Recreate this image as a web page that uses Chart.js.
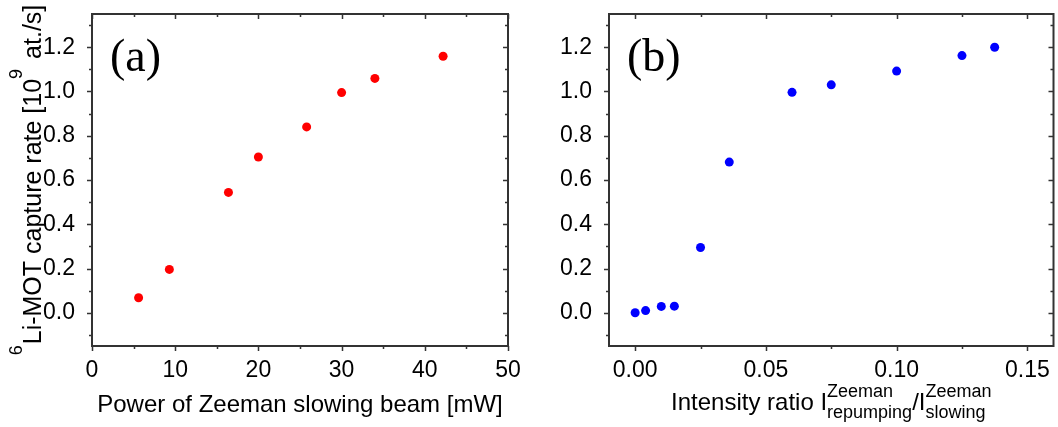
<!DOCTYPE html>
<html>
<head>
<meta charset="utf-8">
<script src="https://cdn.jsdelivr.net/npm/chart.js@4"></script>
<style>
  html, body { margin: 0; padding: 0; background: #fff; }
  #wrap { position: relative; width: 1058px; height: 427px; }
  canvas { position: absolute; top: 0; }
  #chartA { left: 0; }
  #chartB { left: 540px; }
</style>
</head>
<body>
<div id="wrap">
  <canvas id="chartA" width="540" height="427"></canvas>
  <canvas id="chartB" width="518" height="427"></canvas>
</div>
<script>
// panel (a): capture rate vs power of the Zeeman slowing beam
const powerMW = [5.6, 9.3, 16.4, 20.0, 25.8, 30.0, 34.0, 42.2];
const rateA   = [0.068, 0.196, 0.544, 0.704, 0.840, 0.995, 1.059, 1.159];

// panel (b): capture rate vs repumping / slowing intensity ratio
const ratio = [0.000, 0.004, 0.010, 0.015, 0.025, 0.036, 0.060, 0.075, 0.100, 0.125, 0.1375];
const rateB = [0.000, 0.010, 0.029, 0.030, 0.295, 0.681, 0.996, 1.030, 1.092, 1.162, 1.200];

// axis ticks
const yTicks  = [0, 0.2, 0.4, 0.6, 0.8, 1.0, 1.2];
const yMinor  = [-0.1, 0.1, 0.3, 0.5, 0.7, 0.9, 1.1, 1.3];
const xTicksA = [0, 10, 20, 30, 40, 50];
const xMinorA = [5, 15, 25, 35, 45];
const xTicksB = [0, 0.05, 0.10, 0.15];
const xMinorB = [0.025, 0.075, 0.125];

const SANS = '"Liberation Sans", Arial, sans-serif';
const INK = '#000';
const FRAME = '#333';

// draws a line of text with superscripts / stacked sup+sub, centred on x=0
function drawRich(ctx, parts, size, subSize) {
  const segs = parts.map(p => {
    if (p.t !== undefined && !p.sup) {
      ctx.font = size + 'px ' + SANS;
      return { ...p, w: ctx.measureText(p.t).width };
    }
    ctx.font = subSize + 'px ' + SANS;
    const w = Math.max(p.sup ? ctx.measureText(p.t || p.sup).width : 0,
                       p.sub ? ctx.measureText(p.sub).width : 0);
    return { ...p, w: w + (p.gap || 0) };
  });
  const total = segs.reduce((s, p) => s + p.w, 0);
  let x = -total / 2;
  ctx.textAlign = 'left';
  ctx.textBaseline = 'alphabetic';
  for (const p of segs) {
    if (p.t !== undefined && !p.sup) {
      ctx.font = size + 'px ' + SANS;
      ctx.fillText(p.t, x, 0);
    } else {
      ctx.font = subSize + 'px ' + SANS;
      if (p.sup) ctx.fillText(p.t || p.sup, x, -p.raise);
      if (p.sub) ctx.fillText(p.sub, x, p.drop);
    }
    x += p.w;
  }
}

const decoPlugin = {
  id: 'deco',
  afterDraw(chart, args, o) {
    const { ctx, chartArea: a, scales: { x, y } } = chart;
    ctx.save();

    // ticks: outward on bottom/left, inward mirrored on top/right
    ctx.strokeStyle = FRAME;
    ctx.lineWidth = 1.5;
    ctx.beginPath();
    const xt = (v, len) => {
      const p = Math.round(x.getPixelForValue(v)) + 0.5;
      ctx.moveTo(p, a.bottom); ctx.lineTo(p, a.bottom + len);
      ctx.moveTo(p, a.top); ctx.lineTo(p, a.top + len);
    };
    const yt = (v, len) => {
      const p = Math.round(y.getPixelForValue(v)) + 0.5;
      ctx.moveTo(a.left, p); ctx.lineTo(a.left - len, p);
      ctx.moveTo(a.right, p); ctx.lineTo(a.right - len, p);
    };
    o.xMajor.forEach(v => xt(v, 5));
    o.xMinor.forEach(v => xt(v, 3));
    yTicks.forEach(v => yt(v, 5));
    yMinor.forEach(v => yt(v, 3));
    ctx.stroke();

    ctx.lineWidth = 2;
    ctx.strokeRect(a.left, a.top, a.right - a.left, a.bottom - a.top);

    // panel label
    ctx.fillStyle = '#000';
    ctx.font = '46px "Liberation Serif", "DejaVu Serif", serif';
    ctx.textAlign = 'left';
    ctx.textBaseline = 'alphabetic';
    ctx.fillText(o.label, a.left + 18, a.top + 57);

    // x axis title
    ctx.fillStyle = INK;
    ctx.save();
    ctx.translate((a.left + a.right) / 2, o.xBase);
    drawRich(ctx, o.xTitle, 24, 18);
    ctx.restore();

    // y axis title
    if (o.yTitle) {
      ctx.save();
      ctx.translate(41, (a.top + a.bottom) / 2);
      ctx.rotate(-Math.PI / 2);
      drawRich(ctx, o.yTitle, 25, 18);
      ctx.restore();
    }
    ctx.restore();
  }
};

// no extra room for overflowing tick labels: the layout padding sets the plot box
const noOverflow = s => { s.paddingTop = 0; s.paddingBottom = 0; s.paddingLeft = 0; s.paddingRight = 0; };

function yScale(width) {
  return {
    type: 'linear', min: -0.15, max: 1.35,
    grid: { display: false }, border: { display: false },
    afterBuildTicks: s => { s.ticks = yTicks.map(v => ({ value: v })); },
    afterFit: s => { s.width = width; noOverflow(s); },
    ticks: {
      padding: 9, color: INK,
      font: { family: SANS, size: 23 },
      callback: v => v.toFixed(1)
    }
  };
}

function xScale(min, max, ticks, digits) {
  return {
    type: 'linear', min, max,
    grid: { display: false }, border: { display: false },
    afterBuildTicks: s => { s.ticks = ticks.map(v => ({ value: v })); },
    afterFit: s => { s.height = 81; noOverflow(s); },
    ticks: {
      padding: 3, color: INK, maxRotation: 0,
      font: { family: SANS, size: 23 },
      callback: v => v.toFixed(digits)
    }
  };
}

new Chart(document.getElementById('chartA'), {
  type: 'scatter',
  data: {
    datasets: [{
      data: powerMW.map((v, i) => ({ x: v, y: rateA[i] })),
      backgroundColor: '#ff0000',
      borderWidth: 0,
      pointRadius: 4.5
    }]
  },
  options: {
    responsive: false,
    animation: false,
    layout: { padding: { left: 0, right: 32, top: 14, bottom: 0 } },
    scales: { x: xScale(0, 50, xTicksA, 0), y: yScale(92) },
    plugins: {
      legend: { display: false },
      tooltip: { enabled: false },
      deco: {
        label: '(a)', xMajor: xTicksA, xMinor: xMinorA, xBase: 412,
        xTitle: [{ t: 'Power of Zeeman slowing beam [mW]' }],
        yTitle: [
          { sup: true, t: '6', raise: 19, gap: 1 },
          { t: 'Li-MOT capture rate [10' },
          { sup: true, t: '9', raise: 19, gap: 3 },
          { t: ' at./s]' }
        ]
      }
    }
  },
  plugins: [decoPlugin]
});

new Chart(document.getElementById('chartB'), {
  type: 'scatter',
  data: {
    datasets: [{
      data: ratio.map((v, i) => ({ x: v, y: rateB[i] })),
      backgroundColor: '#0000ff',
      borderWidth: 0,
      pointRadius: 4.5
    }]
  },
  options: {
    responsive: false,
    animation: false,
    layout: { padding: { left: 0, right: 3, top: 14, bottom: 0 } },
    scales: { x: xScale(-0.01, 0.16, xTicksB, 2), y: yScale(69) },
    plugins: {
      legend: { display: false },
      tooltip: { enabled: false },
      deco: {
        label: '(b)', xMajor: xTicksB, xMinor: xMinorB, xBase: 410,
        xTitle: [
          { t: 'Intensity ratio I' },
          { sup: 'Zeeman', sub: 'repumping', raise: 13, drop: 8 },
          { t: '/I' },
          { sup: 'Zeeman', sub: 'slowing', raise: 13, drop: 8 }
        ],
        yTitle: null
      }
    }
  },
  plugins: [decoPlugin]
});
</script>
</body>
</html>
